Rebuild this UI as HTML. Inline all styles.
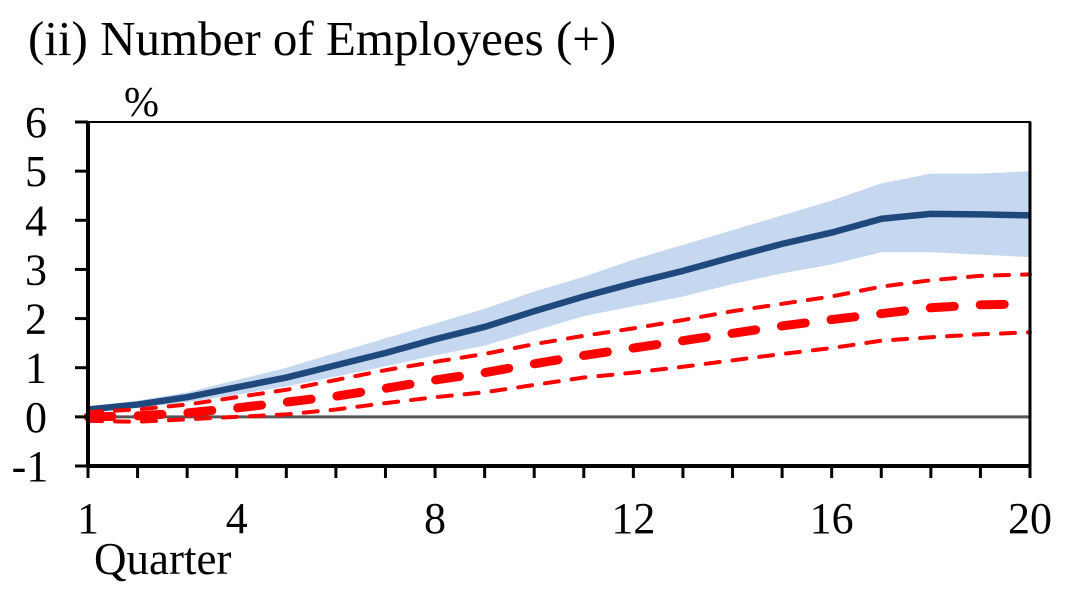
<!DOCTYPE html>
<html><head><meta charset="utf-8"><style>
body{margin:0;background:#fff;width:1090px;height:595px;overflow:hidden}
text{font-family:"Liberation Serif",serif;fill:#000}
</style></head><body>
<svg id="chart" width="1090" height="595" viewBox="0 0 1090 595" xmlns="http://www.w3.org/2000/svg">
<text x="28" y="55" font-size="49">(ii) Number of Employees (+)</text>
<text x="124" y="116" font-size="42">%</text>
<text x="94" y="574" font-size="45">Quarter</text>
<g id="plot"></g>
</svg>
<script>
const quarters=[1,2,3,4,5,6,7,8,9,10,11,12,13,14,15,16,17,18,19,20];
const blueMain=[0.15,0.25,0.4,0.6,0.8,1.05,1.3,1.58,1.83,2.15,2.45,2.72,2.97,3.25,3.52,3.75,4.03,4.13,4.12,4.1];
const blueUpper=[0.2,0.33,0.5,0.75,1.0,1.3,1.6,1.9,2.2,2.55,2.85,3.2,3.5,3.8,4.1,4.4,4.75,4.95,4.95,5.0];
const blueLower=[0.1,0.18,0.3,0.45,0.62,0.82,1.03,1.25,1.45,1.75,2.05,2.25,2.45,2.7,2.92,3.1,3.35,3.35,3.3,3.25];
const redMain=[0.0,0.02,0.08,0.18,0.3,0.42,0.58,0.75,0.9,1.08,1.25,1.4,1.55,1.7,1.85,1.98,2.1,2.22,2.28,2.3];
const redUpper=[0.1,0.15,0.25,0.4,0.55,0.75,0.95,1.12,1.28,1.48,1.65,1.8,1.97,2.15,2.3,2.45,2.65,2.78,2.87,2.9];
const redLower=[-0.08,-0.1,-0.05,0.0,0.05,0.15,0.28,0.4,0.5,0.65,0.8,0.9,1.02,1.15,1.28,1.4,1.55,1.62,1.68,1.72];
const yTicks=[-1,0,1,2,3,4,5,6];
const xTickLabels=[1,4,8,12,16,20];

const L=88,R=1030,T=122,B=466,ymin=-1,ymax=6;
const X=q=>L+(q-1)*(R-L)/19;
const Y=v=>B-(v-ymin)*(B-T)/(ymax-ymin);
const NS="http://www.w3.org/2000/svg";
const g=document.getElementById('plot');
function mk(tag,attrs){const e=document.createElementNS(NS,tag);for(const k in attrs)e.setAttribute(k,attrs[k]);g.appendChild(e);return e;}
const pts=a=>a.map((v,i)=>X(quarters[i])+','+Y(v)).join(' ');

let band=mk('polygon',{points:pts(blueUpper)+' '+blueLower.map((v,i)=>X(quarters[i])+','+Y(v)).reverse().join(' '),fill:'#c6d8ef'});



let zl=mk('line',{x1:L,x2:R,y1:Y(0),y2:Y(0),stroke:'#555','stroke-width':3});



let bl=mk('polyline',{points:pts(blueMain),fill:'none',stroke:'#1f497d','stroke-width':6.5});



let ru=mk('polyline',{points:pts(redUpper),fill:'none',stroke:'#ff0000','stroke-width':4,'stroke-dasharray':'14 13','stroke-linecap':'round'});


let rl=mk('polyline',{points:pts(redLower),fill:'none',stroke:'#ff0000','stroke-width':4,'stroke-dasharray':'14 13','stroke-linecap':'round'});


let rm=mk('polyline',{points:pts(redMain),fill:'none',stroke:'#ff0000','stroke-width':9,'stroke-dasharray':'24 26','stroke-linecap':'round'});



let frame=mk('rect',{x:L,y:T,width:R-L,height:B-T,fill:'none',stroke:'#000','stroke-width':2});


let la=mk('line',{x1:L,x2:L,y1:T,y2:B+1,stroke:'#000','stroke-width':4});


let ba=mk('line',{x1:L,x2:R,y1:B,y2:B,stroke:'#000','stroke-width':4});


let ra=mk('line',{x1:R,x2:R,y1:T,y2:B,stroke:'#000','stroke-width':3});



yTicks.forEach(v=>{
  let t=mk('line',{x1:L-13,x2:L,y1:Y(v),y2:Y(v),stroke:'#000','stroke-width':3});
  
  
  let tx=mk('text',{x:v<0?L-58:L-52,y:Y(v)+15,'font-size':44,'text-anchor':'middle'});
  tx.textContent=v;
  
  
});
quarters.forEach(q=>{
  let t=mk('line',{x1:X(q),x2:X(q),y1:B,y2:B+12,stroke:'#000','stroke-width':3});
  
  
});
xTickLabels.forEach(q=>{
  let tx=mk('text',{x:X(q),y:533,'font-size':44,'text-anchor':'middle'});
  tx.textContent=q;
  
  
});
</script>
</body></html>
